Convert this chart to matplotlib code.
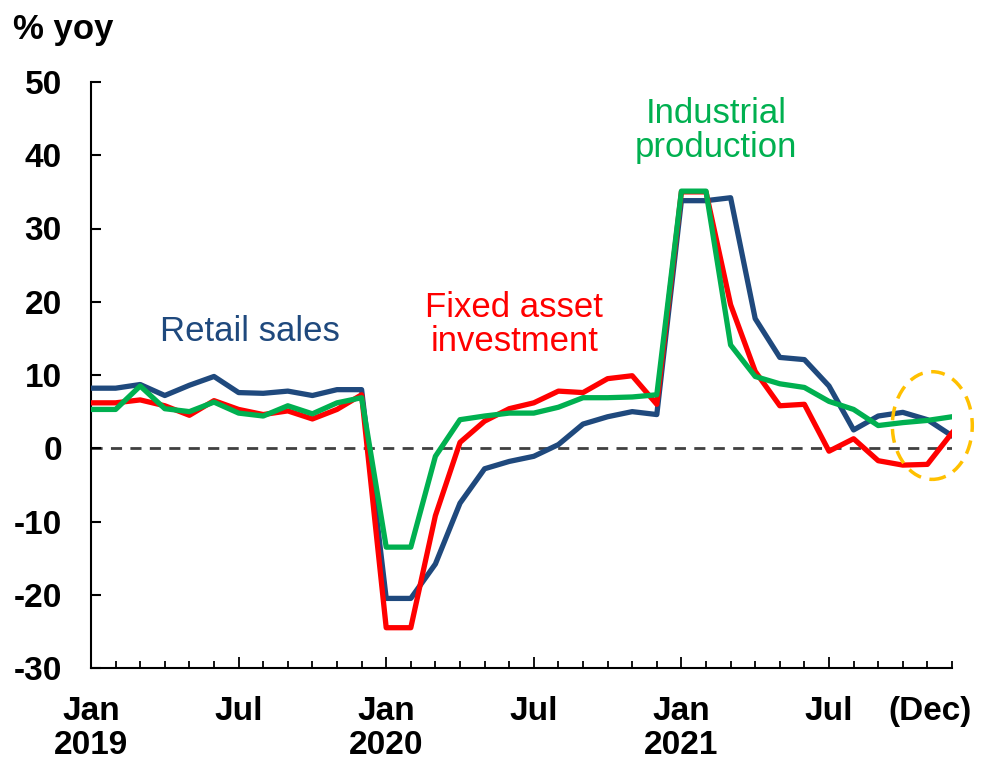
import matplotlib
matplotlib.use('Agg')
import matplotlib.pyplot as plt
from matplotlib.patches import Ellipse

# Police proche d'Arial, tiret simple pour les negatifs
plt.rcParams['font.family'] = ['Liberation Sans', 'DejaVu Sans']
plt.rcParams['axes.unicode_minus'] = False

# Mois de Jan 2019 a Dec 2021 (index 0..35)
months = list(range(36))

retail_sales = [8.2, 8.2, 8.7, 7.2, 8.6, 9.8, 7.6, 7.5, 7.8, 7.2, 8.0, 8.0,
                -20.5, -20.5, -15.8, -7.5, -2.8, -1.8, -1.1, 0.5, 3.3, 4.3, 5.0, 4.6,
                33.8, 33.8, 34.2, 17.7, 12.4, 12.1, 8.5, 2.5, 4.4, 4.9, 3.9, 1.7]

fixed_asset = [6.2, 6.2, 6.6, 5.8, 4.5, 6.5, 5.3, 4.6, 5.1, 4.0, 5.3, 7.3,
               -24.5, -24.5, -9.2, 0.8, 3.7, 5.4, 6.2, 7.8, 7.6, 9.5, 9.9, 6.0,
               35.0, 35.0, 19.6, 10.5, 5.8, 6.0, -0.4, 1.3, -1.7, -2.3, -2.2, 2.1]

industrial = [5.3, 5.3, 8.5, 5.4, 5.0, 6.3, 4.8, 4.4, 5.8, 4.7, 6.2, 6.9,
              -13.5, -13.5, -1.1, 3.9, 4.4, 4.8, 4.8, 5.6, 6.9, 6.9, 7.0, 7.3,
              35.1, 35.1, 14.1, 9.8, 8.8, 8.3, 6.4, 5.3, 3.1, 3.5, 3.8, 4.3]

tick_pos = [0, 6, 12, 18, 24, 30]
tick_labels = ['Jan\n2019', 'Jul', 'Jan\n2020', 'Jul', 'Jan\n2021', 'Jul']

BLUE = '#1F497D'
RED = '#FF0000'
GREEN = '#00B050'


def main():
    fig = plt.figure(figsize=(9.84, 7.62), dpi=100)
    ax = fig.add_axes([91 / 984, 1 - 668 / 762, (952 - 91) / 984, (668 - 82) / 762])

    # Ligne du zero
    ax.axhline(0, color='#404040', lw=2, ls=(0, (4, 3)), zorder=1)

    ax.plot(months, retail_sales, color=BLUE, lw=3.8, zorder=3)
    ax.plot(months, fixed_asset, color=RED, lw=3.8, zorder=4)
    ax.plot(months, industrial, color=GREEN, lw=3.8, zorder=5)

    # Ellipse pointillee sur les derniers mois
    ell = Ellipse((34.2, 3.1), 3.25, 14.7, fill=False, edgecolor='#FFC000',
                  lw=2.5, ls=(0, (4, 2.5)), clip_on=False, zorder=6)
    ax.add_patch(ell)

    ax.set_xlim(0, 35)
    ax.set_ylim(-30, 50)
    ax.set_yticks(range(-30, 51, 10))

    ax.set_xticks(tick_pos)
    ax.set_xticklabels(tick_labels)
    ax.set_xticks(months, minor=True)

    for s in ['top', 'right']:
        ax.spines[s].set_visible(False)
    for s in ['left', 'bottom']:
        ax.spines[s].set_linewidth(1.5)

    ax.tick_params(axis='y', direction='in', length=7, width=1.5, pad=21,
                   labelsize=24)
    ax.tick_params(axis='x', which='major', direction='in', length=8,
                   width=1.3, pad=20, labelsize=24)
    ax.tick_params(axis='x', which='minor', direction='in', length=5,
                   width=1.3)
    for lab in ax.get_xticklabels() + ax.get_yticklabels():
        lab.set_fontweight('bold')
        lab.set_linespacing(1.15)

    ax.annotate('(Dec)', xy=(34.1, 0), xycoords=('data', 'axes fraction'),
                xytext=(0, -20), textcoords='offset points', ha='center',
                va='top', fontsize=24, fontweight='bold', annotation_clip=False)

    fig.text(13 / 984, 1 - 30 / 762, '% yoy', fontsize=25, fontweight='bold',
             ha='left', va='center')

    # Etiquettes des series
    ax.text(6.46, 16.0, 'Retail sales', color=BLUE, fontsize=25,
            ha='center', va='center')
    ax.text(17.2, 16.9, 'Fixed asset\ninvestment', color=RED, fontsize=25,
            ha='center', va='center', linespacing=1.05)
    ax.text(25.4, 43.4, 'Industrial\nproduction', color=GREEN, fontsize=25,
            ha='center', va='center', linespacing=1.05)

    fig.savefig('out.png', dpi=100)


if __name__ == "__main__":
    main()
